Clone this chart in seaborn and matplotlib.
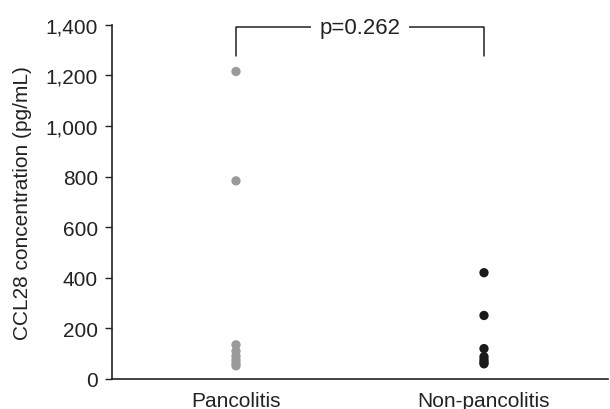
import matplotlib
matplotlib.use("Agg")
import matplotlib.pyplot as plt
import seaborn as sns
import pandas as pd
from matplotlib.ticker import FuncFormatter

categories = ["Pancolitis", "Non-pancolitis"]
pancolitis = [1215, 783, 135, 110, 90, 75, 62, 52]
non_pancolitis = [420, 251, 120, 88, 76, 66, 60]
yticks = [0, 200, 400, 600, 800, 1000, 1200, 1400]
p_text = "p=0.262"
colors = ["#9a9a9a", "#1a1a1a"]

df = pd.DataFrame({
    "group": [categories[0]] * len(pancolitis) + [categories[1]] * len(non_pancolitis),
    "value": pancolitis + non_pancolitis,
})

sns.set_style("white")
plt.rcParams["font.family"] = ["Liberation Sans", "DejaVu Sans"]

fig = plt.figure(figsize=(6.1, 4.1), dpi=100)
ax = fig.add_axes([0.1836, 0.0732, 0.8131, 0.8641])

sns.stripplot(data=df, x="group", y="value", hue="group", order=categories,
              hue_order=categories, palette=colors, jitter=False, size=6.7,
              linewidth=0, legend=False, ax=ax)

ax.set_xlim(-0.5, 1.5)
ax.set_ylim(0, 1400)
ax.set_yticks(yticks)
ax.yaxis.set_major_formatter(FuncFormatter(lambda v, p: f"{int(v):,}"))
ax.set_xticks([-0.5, 0.5, 1.5], minor=False)
ax.set_xticklabels(["", "", ""])
ax.set_xticks([0, 1], minor=True)
ax.set_xticklabels(categories, minor=True)
ax.tick_params(axis="x", which="major", direction="out", length=6, width=1, color="#222222")
ax.tick_params(axis="x", which="minor", length=0, labelsize=15, pad=9, labelcolor="#222222")
ax.tick_params(axis="y", direction="out", length=5, width=1, color="#222222",
               labelsize=15, pad=5, labelcolor="#222222", left=True)
ax.set_xlabel("")
ax.set_ylabel("CCL28 concentration (pg/mL)", fontsize=15, color="#222222", labelpad=10)

for s in ["top", "right"]:
    ax.spines[s].set_visible(False)
for s in ["left", "bottom"]:
    ax.spines[s].set_color("#222222")
    ax.spines[s].set_linewidth(1.2)

# bracket
ax.plot([0, 0, 1, 1], [1277, 1390, 1390, 1277], color="#222222", lw=1.1, clip_on=False)
ax.text(0.5, 1390, p_text, ha="center", va="center", fontsize=16, color="#222222",
        bbox=dict(facecolor="white", edgecolor="none", pad=6), clip_on=False)

fig.savefig("out.png", dpi=100)
